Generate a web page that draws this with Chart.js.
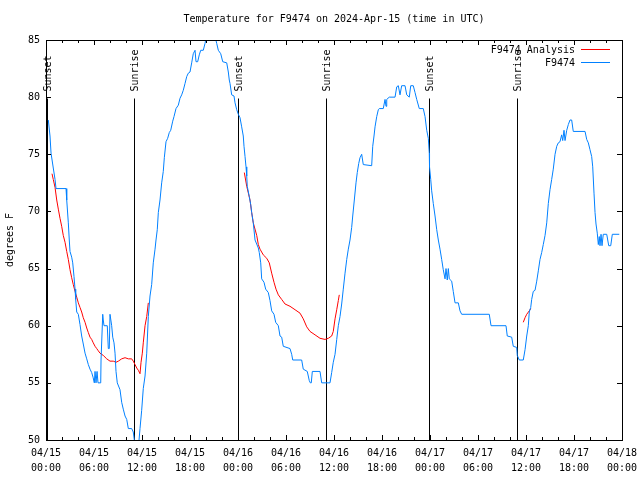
<!DOCTYPE html>
<html><head><meta charset="utf-8">
<script src="https://cdn.jsdelivr.net/npm/chart.js@4/dist/chart.umd.min.js"></script>
<style>html,body{margin:0;padding:0;background:#fff}canvas{display:block}</style>
</head><body>
<canvas id="c" width="640" height="480"></canvas>
<script>
const titleText = 'Temperature for F9474 on 2024-Apr-15 (time in UTC)';
const yTitle = 'degrees F';
const dateLabels = ['04/15','04/15','04/15','04/15','04/16','04/16','04/16','04/16','04/17','04/17','04/17','04/17','04/18'];
const timeLabels = ['00:00','06:00','12:00','18:00','00:00','06:00','12:00','18:00','00:00','06:00','12:00','18:00','00:00'];
const sunLabels = ['Sunset','Sunrise','Sunset','Sunrise','Sunset','Sunrise'];
const sunHours = [0.08, 11.04, 24.04, 35.04, 47.92, 58.92];
const seriesNames = ['F9474 Analysis','F9474'];

// observed F9474 (hours since 04/15 00:00 UTC)
const obsTimes = [
0.29,0.5,0.63,0.91,1.13,1.25,2.5,2.59,2.79,2.91,
3.0,3.21,3.34,3.5,3.63,3.71,3.84,4.04,4.25,4.46,
4.66,4.88,5.09,5.29,5.5,5.71,5.88,6.04,6.13,6.25,
6.38,6.5,6.84,6.88,7.09,7.16,7.25,7.66,7.79,7.91,
8.0,8.21,8.34,8.5,8.63,8.75,8.91,9.25,9.46,9.66,
9.88,10.09,10.29,10.71,10.91,11.04,11.13,11.5,11.63,11.75,
11.96,12.16,12.38,12.59,12.79,13.0,13.21,13.41,13.63,13.75,
13.91,14.04,14.25,14.46,14.66,14.79,15.0,15.21,15.41,15.59,
15.84,16.0,16.25,16.54,16.75,16.96,17.16,17.38,17.59,17.79,
18.0,18.21,18.41,18.63,18.75,18.96,19.16,19.34,19.66,19.88,
20.09,20.75,21.13,21.34,21.54,21.84,22.09,22.59,22.79,22.91,
23.0,23.21,23.5,23.63,23.84,24.04,24.25,24.46,24.66,24.75,
24.88,25.0,25.09,25.16,25.41,25.59,25.71,25.91,26.13,26.54,
26.66,26.84,26.96,27.25,27.46,27.79,28.0,28.21,28.5,28.71,
29.04,29.25,29.46,29.66,30.5,30.71,30.84,31.96,32.16,32.66,
32.91,33.04,33.16,33.29,34.25,34.46,35.5,35.71,35.91,36.13,
36.34,36.54,36.75,36.96,37.16,37.38,37.59,37.79,38.0,38.21,
38.34,38.54,38.75,38.91,39.09,39.25,39.46,39.66,40.71,40.84,
41.0,41.13,41.34,41.54,41.66,42.16,42.38,42.5,42.59,42.91,
43.63,43.84,44.04,44.25,44.46,44.88,45.09,45.41,45.59,45.91,
46.13,46.34,46.66,47.16,47.38,47.59,47.79,47.91,47.94,48.09,
48.21,48.41,48.63,48.84,49.04,49.25,49.46,49.66,49.88,50.0,
50.16,50.29,50.41,50.71,50.91,51.13,51.54,51.75,51.96,55.41,
55.63,57.5,57.66,58.21,58.41,58.84,58.91,59.16,59.66,59.88,
60.09,60.29,60.41,60.59,60.71,60.91,61.13,61.34,61.54,61.75,
61.96,62.16,62.38,62.59,62.79,63.0,63.21,63.41,63.63,63.84,
64.04,64.25,64.46,64.59,64.75,64.88,65.09,65.29,65.5,65.71,
65.91,67.38,67.59,67.79,68.0,68.21,68.34,68.5,68.63,68.75,
68.91,69.04,69.16,69.25,69.38,69.5,69.66,70.09,70.34,70.59,
70.79,71.66];
const obsTemps = [
78,76.6,75.1,73.8,72.8,72,72,71,69,67.5,
66.5,66,65.5,64.3,63.2,62.3,61.2,61,60.1,59.1,
58.4,57.6,57.1,56.6,56.2,55.9,55.5,55,56,55,
56,55,55,57,61,60.5,60,60,58,58,
61,60,59,58.5,57.6,56,55,54.4,53.3,52.7,
52.1,51.8,51,51,50.7,50,49.5,49.5,50,51,
52.6,54.5,55.6,57.6,60.8,62.6,63.6,65.5,66.7,67.5,
68.4,69.9,71,72.5,73.5,74.7,76.1,76.4,76.9,77.1,
77.9,78.3,79,79.3,79.9,80.2,80.6,81.2,81.8,82.1,
82.2,83,83.8,84.1,83.1,83.1,83.7,84.1,84.1,84.7,
85.5,86,85.3,84.7,84.1,83.8,83.1,83,82.2,81.5,
81.2,80.2,80.1,79.5,78.9,78.5,78.2,77.4,76.6,75.7,
74.8,73.9,73.1,72.2,71.3,70.6,69.9,69,67.5,66.8,
66.4,65.5,64.1,63.8,63.2,62.9,62.2,61.3,61,60.3,
60,59.1,59,58.2,58,57.5,57,57,56.2,56,
55.2,55,55,56,56,55,55,55.9,56.8,57.5,
58.8,60,60.8,61.9,63.2,64.6,65.8,66.7,67.5,68.6,
69.6,71,72.5,73.4,74.2,74.7,75,74.1,74,75.7,
76.6,77.4,78.3,78.9,79,79,79.8,79.2,79.8,80,
80,80.9,81,80.2,81,81,80.2,80,81,81,
80.4,79.8,79,79,78.3,77.1,76.4,75.1,73.9,72.8,
71.8,70.7,69.6,68.4,67.5,66.7,65.8,64.9,64.1,65,
64,65,64.1,63.9,63,62,62,61.3,61,61,
60,60,59.1,59,58.2,58.1,57.4,57,57,57.9,
59.1,60,61.2,61.6,62.3,63,63.1,63.9,64.8,65.8,
66.4,67.1,67.9,69,70.7,71.9,72.8,73.7,75,75.7,
76,76.1,76.7,76.2,77.1,76.2,77.1,77.6,78,78,
77,77,76.3,76,75.4,74.8,73.9,71.6,69.9,68.9,
68.1,67.1,67.8,67,68,67,68,68,67,67,
68,68];

// analysis (null = gap)
const anaTimes = [
0.75,0.91,1.13,1.34,1.54,1.75,1.96,2.16,2.38,2.59,
2.79,3.0,3.21,3.41,3.63,3.84,4.04,4.25,4.46,4.66,
4.88,5.09,5.29,5.5,5.71,5.91,6.13,6.34,6.54,6.75,
7.16,7.59,8.0,8.41,8.75,9.04,9.46,9.88,10.29,10.71,
10.91,11.13,11.34,11.54,11.75,11.88,12.04,12.16,12.38,12.59,
12.79,18,
24.79,25.09,25.5,25.71,25.91,26.34,26.54,26.75,27.16,27.59,
27.91,28.21,28.5,28.75,29.04,29.46,29.88,30.5,31.13,31.75,
32.16,32.59,33.0,33.63,34.25,34.88,35.29,35.71,35.91,36.13,
36.34,36.54,36.66,48,
59.66,59.88,60.09,60.41,60.59];
const anaTemps = [
73.3,72.8,72.1,71,70.2,69.4,68.7,67.9,67.3,66.5,
65.8,64.9,64.2,63.6,63,62.5,62,61.6,61.2,60.7,
60.3,59.8,59.4,59,58.8,58.5,58.2,58,57.8,57.6,
57.4,57.1,56.9,56.9,56.8,56.9,57.1,57.2,57.1,57.1,
56.9,56.6,56.3,56.1,55.8,56.8,57.6,58.5,60,60.8,
62,null,
73.4,72.2,71,69.9,69,67.9,67.1,66.7,66.2,65.9,
65.5,64.6,63.8,63.2,62.7,62.3,61.9,61.7,61.4,61.1,
60.6,59.9,59.5,59.2,58.9,58.8,58.9,59.1,59.5,60.6,
61.4,62.2,62.7,null,
60.3,60.7,61,61.3,61.5];

const MONO = "'DejaVu Sans Mono','Liberation Mono',monospace";
const RED = '#ff0000', BLUE = '#0080ff';

const deco = {
  id: 'deco',
  beforeDatasetsDraw(chart) {
    const {ctx, chartArea: a, scales: {x, y}} = chart;
    ctx.save();
    ctx.strokeStyle = '#000'; ctx.lineWidth = 1;
    ctx.fillStyle = '#000'; ctx.font = '10px ' + MONO;
    const top = Math.round(y.getPixelForValue(80)) + 1.5;
    sunHours.forEach((h, i) => {
      const px = Math.round(x.getPixelForValue(h)) + 0.5;
      ctx.beginPath(); ctx.moveTo(px, top); ctx.lineTo(px, a.bottom); ctx.stroke();
      ctx.save();
      ctx.translate(px + 1, top - 7);
      ctx.rotate(-Math.PI / 2);
      ctx.textAlign = 'left'; ctx.textBaseline = 'middle';
      ctx.fillText(sunLabels[i], 0, 0);
      ctx.restore();
    });
    ctx.restore();
  },
  afterDatasetsDraw(chart) {
    const {ctx, chartArea: a, scales: {x, y}} = chart;
    ctx.save();
    ctx.strokeStyle = '#000'; ctx.lineWidth = 1;
    ctx.beginPath();
    for (let h = 0; h <= 72; h += 2) {
      const px = Math.round(x.getPixelForValue(h)) + 0.5;
      const len = h % 6 === 0 ? 5 : 3;
      ctx.moveTo(px, a.bottom); ctx.lineTo(px, a.bottom - len);
      ctx.moveTo(px, a.top); ctx.lineTo(px, a.top + len);
    }
    for (let v = 50; v <= 85; v += 5) {
      const py = Math.round(y.getPixelForValue(v)) + 0.5;
      ctx.moveTo(a.left, py); ctx.lineTo(a.left + 5, py);
      ctx.moveTo(a.right, py); ctx.lineTo(a.right - 5, py);
    }
    ctx.stroke();
    ctx.strokeRect(Math.round(a.left) + 0.5, Math.round(a.top) + 0.5,
                   Math.round(a.right - a.left), Math.round(a.bottom - a.top));
    // legend
    ctx.font = '10px ' + MONO; ctx.fillStyle = '#000';
    ctx.textAlign = 'right'; ctx.textBaseline = 'middle';
    const cols = [RED, BLUE];
    seriesNames.forEach((n, i) => {
      const yy = a.top + 10 + i * 13;
      ctx.fillText(n, a.right - 47, yy);
      ctx.strokeStyle = cols[i];
      ctx.beginPath(); ctx.moveTo(a.right - 41, yy - 0.5); ctx.lineTo(a.right - 12, yy - 0.5); ctx.stroke();
    });
    ctx.restore();
  }
};

new Chart(document.getElementById('c'), {
  type: 'line',
  data: {
    datasets: [
      { label: seriesNames[0], data: anaTimes.map((t, i) => ({x: t, y: anaTemps[i]})),
        borderColor: RED, borderWidth: 1, pointRadius: 0, spanGaps: false, tension: 0, order: 1 },
      { label: seriesNames[1], data: obsTimes.map((t, i) => ({x: t, y: obsTemps[i]})),
        borderColor: BLUE, borderWidth: 1, pointRadius: 0, tension: 0, order: 0 }
    ]
  },
  options: {
    responsive: false, animation: false, devicePixelRatio: 1,
    layout: { padding: { left: 0, right: 18, top: 0, bottom: 0 } },
    plugins: {
      legend: { display: false }, tooltip: { enabled: false },
      title: { display: true, text: titleText, fullSize: false, color: '#000',
               font: { family: MONO, size: 10, weight: 'normal', lineHeight: 1.2 },
               padding: { top: 13, bottom: 15 } }
    },
    scales: {
      x: {
        type: 'linear', min: 0, max: 72,
        grid: { display: false, drawTicks: false }, border: { display: false },
        ticks: { stepSize: 6, maxTicksLimit: 20, autoSkip: false, maxRotation: 0, padding: 6,
                 color: '#000', font: { family: MONO, size: 10, lineHeight: 1.5 },
                 callback: (v) => { const i = Math.round(v / 6); return [dateLabels[i], timeLabels[i]]; } },
        afterFit: (s) => { s.height = 40; s.paddingRight = 0; s.paddingLeft = 0; }
      },
      y: {
        type: 'linear', min: 50, max: 85,
        grid: { display: false, drawTicks: false }, border: { display: false },
        ticks: { stepSize: 5, padding: 6, color: '#000', font: { family: MONO, size: 10 } },
        title: { display: true, text: yTitle, color: '#000', font: { family: MONO, size: 10, lineHeight: 1.2 },
                 padding: { top: 4, bottom: 0 } },
        afterFit: (s) => { s.width = 46; s.paddingTop = 0; s.paddingBottom = 0; }
      }
    }
  },
  plugins: [deco]
});
</script>
</body></html>
